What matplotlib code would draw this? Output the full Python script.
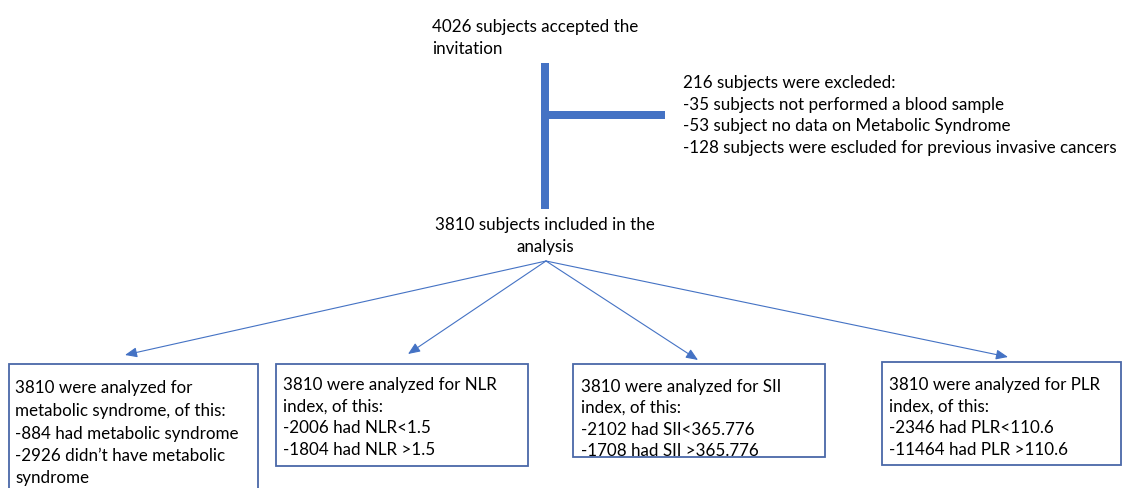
import matplotlib
matplotlib.use("Agg")
import matplotlib.pyplot as plt
from matplotlib.patches import Rectangle, FancyArrowPatch

# ---- content ----
top_lines = ["4026 subjects accepted the", "invitation"]
excluded_lines = [
    "216 subjects were excleded:",
    "-35 subjects not performed a blood sample",
    "-53 subject no data on Metabolic Syndrome",
    "-128 subjects were escluded for previous invasive cancers",
]
included_lines = ["3810 subjects included in the", "analysis"]
box_texts = [
    ["3810 were analyzed for", "metabolic syndrome, of this:", "-884 had metabolic syndrome",
     "-2926 didn\u2019t have metabolic", "syndrome"],
    ["3810 were analyzed for NLR", "index, of this:", "-2006 had NLR<1.5", "-1804 had NLR >1.5"],
    ["3810 were analyzed for SII", "index, of this:", "-2102 had SII<365.776", "-1708 had SII >365.776"],
    ["3810 were analyzed for PLR", "index, of this:", "-2346 had PLR<110.6", "-11464 had PLR >110.6"],
]

# ---- layout (pixel coordinates) ----
W, H = 1126, 489
BLUE = "#4472C4"
EDGE = "#4a68a8"
FONT = ["Lato", "DejaVu Sans"]

fig = plt.figure(figsize=(W / 100, H / 100), dpi=100)
ax = fig.add_axes([0, 0, 1, 1])
ax.set_xlim(0, W)
ax.set_ylim(H, 0)
ax.axis("off")

# calibrate font size so the long exclusion line spans ~432 px
probe = ax.text(0, 0, excluded_lines[-1], fontsize=12, family=FONT)
fig.canvas.draw()
wpx = probe.get_window_extent().width
probe.remove()
fs = 12 * 432 / wpx

def lines(x, ys, texts, ha="left"):
    for y, t in zip(ys, texts):
        ax.text(x, y, t, fontsize=fs, family=FONT, ha=ha, va="center", color="black")

lines(432, [27, 49], top_lines)
lines(683, [83, 105, 126, 148], excluded_lines)
lines(545, [225, 247], included_lines, ha="center")

# thick connector bars
ax.add_patch(Rectangle((541, 64), 8, 146, facecolor=BLUE, edgecolor="none"))
ax.add_patch(Rectangle((549, 112), 116, 8, facecolor=BLUE, edgecolor="none"))

# boxes
boxes = [(9, 365, 258, 500), (276, 365, 528, 467), (573, 365, 825, 458), (882, 363, 1121, 466)]
text_left = [15, 283, 581, 889]
text_ys = [[388, 411, 434, 456, 478], [385, 407, 428, 450], [387, 408, 430, 451], [385, 407, 428, 450]]
for (x0, y0, x1, y1), tx, tys, txt in zip(boxes, text_left, text_ys, box_texts):
    ax.add_patch(Rectangle((x0, y0), x1 - x0, y1 - y0, facecolor="white", edgecolor=EDGE, linewidth=1.3))
    lines(tx, tys, txt)

# arrows
origin = (546, 262)
tips = [(125, 356), (408, 355), (698, 361), (1008, 358)]
for tip in tips:
    ax.add_patch(FancyArrowPatch(origin, tip, arrowstyle="-|>,head_length=6,head_width=2.5",
                                 color=BLUE, linewidth=0.8, shrinkA=0, shrinkB=0, mutation_scale=1.2))

fig.savefig("out.png", dpi=100)
